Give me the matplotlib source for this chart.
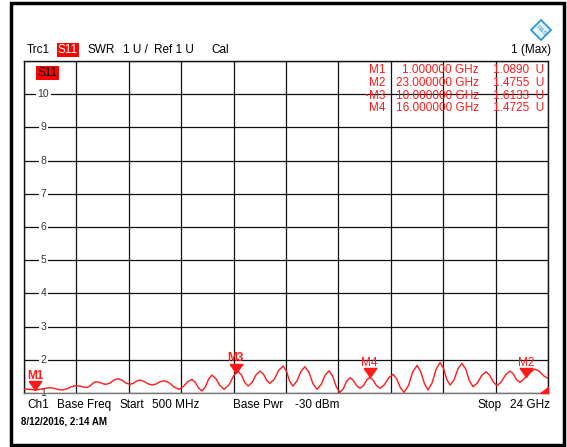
import matplotlib
matplotlib.use('Agg')
import matplotlib.pyplot as plt
import matplotlib.transforms as mtransforms
from matplotlib.patches import Rectangle
from matplotlib.lines import Line2D
import numpy as np

plt.rcParams['font.family'] = ['Liberation Sans', 'DejaVu Sans']

W, H = 567, 447

# S11 trace, SWR vs frequency (GHz)
freq_ghz = [0.50, 0.75, 1.00, 1.22, 1.45, 1.67, 1.85, 2.02, 2.20, 2.41, 2.62, 2.83,
            3.00, 3.16, 3.33, 3.46, 3.60, 3.73, 3.88, 4.03, 4.18, 4.36, 4.53, 4.71,
            4.89, 5.07, 5.25, 5.40, 5.55, 5.70, 5.88, 6.06, 6.24, 6.42, 6.60, 6.78,
            7.00, 7.23, 7.45, 7.64, 7.84, 8.03, 8.18, 8.33, 8.48, 8.63, 8.78, 8.93,
            9.11, 9.29, 9.47, 9.69, 9.88, 10.00, 10.12, 10.26, 10.40, 10.55, 10.73,
            10.91, 11.09, 11.24, 11.38, 11.53, 11.73, 11.92, 12.12, 12.27, 12.41,
            12.56, 12.74, 12.92, 13.10, 13.28, 13.46, 13.64, 13.82, 14.00, 14.18,
            14.34, 14.51, 14.67, 14.82, 14.97, 15.12, 15.27, 15.42, 15.57, 15.72,
            15.87, 16.00, 16.16, 16.31, 16.47, 16.66, 16.86, 17.05, 17.21, 17.38,
            17.54, 17.74, 17.93, 18.13, 18.29, 18.46, 18.62, 18.80, 18.98, 19.16,
            19.31, 19.46, 19.61, 19.79, 19.96, 20.14, 20.31, 20.47, 20.64, 20.83,
            21.03, 21.22, 21.38, 21.55, 21.71, 21.90, 22.10, 22.29, 22.44, 22.59,
            22.74, 22.85, 23.00, 23.20, 23.40, 23.60, 23.80, 24.00]
swr = [1.12, 1.11, 1.09, 1.11, 1.14, 1.16, 1.14, 1.11, 1.09, 1.12, 1.19, 1.22,
       1.21, 1.18, 1.17, 1.21, 1.30, 1.34, 1.32, 1.28, 1.26, 1.30, 1.39, 1.43,
       1.39, 1.30, 1.26, 1.29, 1.36, 1.39, 1.35, 1.28, 1.24, 1.27, 1.34, 1.37,
       1.31, 1.18, 1.11, 1.19, 1.34, 1.41, 1.32, 1.15, 1.06, 1.18, 1.42, 1.54,
       1.43, 1.22, 1.11, 1.24, 1.49, 1.61, 1.64, 1.53, 1.32, 1.21, 1.32,
       1.55, 1.66, 1.57, 1.38, 1.29, 1.42, 1.68, 1.81, 1.66, 1.36,
       1.21, 1.36, 1.65, 1.79, 1.62, 1.28, 1.11, 1.25, 1.53, 1.67,
       1.51, 1.18, 1.02, 1.13, 1.35, 1.46, 1.38, 1.22, 1.14, 1.22,
       1.39, 1.47, 1.39, 1.22, 1.14, 1.25, 1.46, 1.56, 1.43, 1.16,
       1.02, 1.22, 1.63, 1.83, 1.65, 1.28, 1.09, 1.30, 1.71, 1.92,
       1.75, 1.41, 1.24, 1.40, 1.73, 1.89, 1.72, 1.37, 1.19, 1.30,
       1.53, 1.64, 1.54, 1.33, 1.22, 1.33, 1.55, 1.66, 1.58, 1.40,
       1.32, 1.38, 1.48, 1.62, 1.72, 1.66, 1.52, 1.44]

# markers
marker_names = ['M1', 'M2', 'M3', 'M4']
marker_freq = [1.0, 23.0, 10.0, 16.0]
marker_swr = [1.0890, 1.4755, 1.6133, 1.4725]
marker_bold = [True, False, True, False]

start_ghz, stop_ghz = 0.5, 24.0
y_min, y_max = 1, 11
y_labels = ['1', '2', '3', '4', '5', '6', '7', '8', '9', '10']

RED = '#ff1a1a'


def fx(x):
    return x / W


def fy(y):
    return 1 - y / H


fig = plt.figure(figsize=(W / 100, H / 100), dpi=100)
fig.patch.set_facecolor('white')

ax = fig.add_axes([fx(24), fy(393), 524 / W, 332 / H])
ax.set_xlim(start_ghz, stop_ghz)
ax.set_ylim(y_min, y_max)
ax.set_xticks(np.linspace(start_ghz, stop_ghz, 11))
ax.set_yticks(range(y_min, y_max + 1))
ax.tick_params(length=0, labelbottom=False, labelleft=False)
ax.set_axisbelow(True)
ax.grid(True, color='#111111', lw=0.9)
for s in ax.spines.values():
    s.set_color('#111111')
    s.set_linewidth(1.0)
ax.spines['bottom'].set_color('#777777')

# y labels drawn inside the grid
tr = mtransforms.blended_transform_factory(ax.transAxes, ax.transData)
for lab in y_labels:
    ax.text(0.037, int(lab), lab, transform=tr, ha='center', va='center',
            fontsize=7.5, color='#333333', zorder=2,
            bbox=dict(fc='white', ec='none', pad=1.2))

# trace
ax.plot(freq_ghz, swr, color=RED, lw=1.0, zorder=4)

# marker triangles, tip on the trace
tri = [(-0.7, 1.0), (0.7, 1.0), (0.0, 0.0), (-0.7, 1.0)]
for name, f, v, b in zip(marker_names, marker_freq, marker_swr, marker_bold):
    ax.plot([f], [v], marker=tri, ms=13, color=RED, ls='none', zorder=5, clip_on=False)
    ax.annotate(name, (f, v), xytext=(0, 8.3), textcoords='offset points',
                ha='center', va='baseline', fontsize=8.5, color=RED,
                fontweight='bold' if b else 'normal', zorder=6)

# corner pointer at stop frequency
corner = [(0, 0), (0, 1), (-1.3, 0), (0, 0)]
ax.plot([stop_ghz], [y_min], marker=corner, ms=11, color=RED, ls='none',
        zorder=6, clip_on=False)

# S11 tag in the diagram
ax.text(fx(37), fy(73), 'S11', transform=fig.transFigure, ha='left', va='center',
        fontsize=8.5, color='black', zorder=6,
        bbox=dict(fc='#ff0000', ec='none', pad=1.0))

# header line
hdr_y = fy(50)
fs = 8.5
fig.text(fx(27), hdr_y, 'Trc1', fontsize=fs, va='center')
fig.text(fx(58), hdr_y, 'S11', fontsize=fs, va='center', color='white',
         bbox=dict(fc='#ff0000', ec='none', pad=0.8))
fig.text(fx(88), hdr_y, 'SWR', fontsize=fs, va='center')
fig.text(fx(123), hdr_y, '1 U /', fontsize=fs, va='center')
fig.text(fx(154), hdr_y, 'Ref 1 U', fontsize=fs, va='center')
fig.text(fx(211), hdr_y, 'Cal', fontsize=fs, va='center')
fig.text(fx(551), hdr_y, '1 (Max)', fontsize=fs, va='center', ha='right')

# marker table
rows_y = [70, 83, 96, 108]
tbl_freq = ['1.000000 GHz', '23.000000 GHz', '10.000000 GHz', '16.000000 GHz']
tbl_val = ['1.0890  U', '1.4755  U', '1.6133  U', '1.4725  U']
for name, fr, val, yy in zip(marker_names, tbl_freq, tbl_val, rows_y):
    fig.text(fx(385), fy(yy), name, fontsize=fs, color=RED, ha='right', va='center')
    fig.text(fx(479), fy(yy), fr, fontsize=fs, color=RED, ha='right', va='center')
    fig.text(fx(544), fy(yy), val, fontsize=fs, color=RED, ha='right', va='center')
fig.text(fx(367), fy(96), '•', fontsize=5, color=RED, ha='center', va='center')

# footer
ft_y = fy(405)
fig.text(fx(27), ft_y, 'Ch1', fontsize=fs, va='center')
fig.text(fx(57), ft_y, 'Base Freq', fontsize=fs, va='center')
fig.text(fx(119), ft_y, 'Start', fontsize=fs, va='center')
fig.text(fx(152), ft_y, '500 MHz', fontsize=fs, va='center')
fig.text(fx(233), ft_y, 'Base Pwr', fontsize=fs, va='center')
fig.text(fx(295), ft_y, '-30 dBm', fontsize=fs, va='center')
fig.text(fx(477), ft_y, 'Stop', fontsize=fs, va='center')
fig.text(fx(550), ft_y, '24 GHz', fontsize=fs, va='center', ha='right')
fig.text(fx(21), fy(421), '8/12/2016, 2:14 AM', fontsize=7, fontweight='bold',
         va='center')

# logo
fig.add_artist(Line2D([fx(541)], [fy(30)], marker='D', ms=10.5, mfc='#e6f3fc',
                      mec='#2f96dc', mew=1.3, transform=fig.transFigure))
fig.text(fx(541), fy(30), 'R&S', fontsize=4.5, color='#2f96dc', ha='center',
         va='center', rotation=-45)

# outer frame
fig.add_artist(Rectangle((fx(11), fy(444.5)), 553.5 / W, 441.5 / H,
                         transform=fig.transFigure, fill=False, ec='black', lw=2.5))

fig.savefig('out.png', dpi=100, facecolor='white')
